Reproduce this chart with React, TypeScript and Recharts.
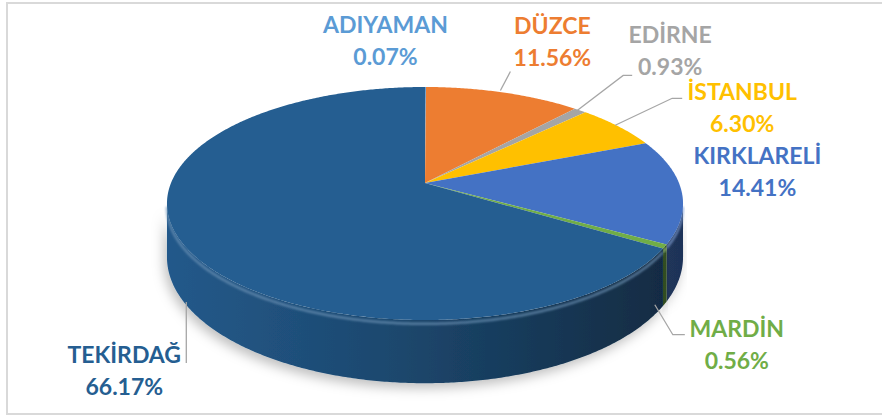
import { PieChart, Pie, Cell } from "recharts";

const provinces = ["ADIYAMAN", "DÜZCE", "EDİRNE", "İSTANBUL", "KIRKLARELİ", "MARDİN", "TEKİRDAĞ"];
const shares = [0.07, 11.56, 0.93, 6.3, 14.41, 0.56, 66.17];
const sliceColors = ["#5B9BD5", "#ED7D31", "#A5A5A5", "#FFC000", "#4472C4", "#70AD47", "#255E91"];

const data = provinces.map((name, i) => ({ name, value: shares[i] }));

// tilt of the disc: vertical squash, perspective and wall height (relative to radius)
const squash = 0.4445;
const persp = 0.176;
const wall = 0.205;
const edgeAngle = (Math.acos(-persp) * 180) / Math.PI; // where the side wall turns away

// label offsets from the slice anchor, leader points relative to the anchor
const labelPlacement: Record<string, { dx: number; dy: number; line?: number[][] }> = {
  "ADIYAMAN": { dx: -40, dy: -54 },
  "DÜZCE": { dx: 49, dy: -59, line: [[-3, -2], [7, -21]] },
  "EDİRNE": { dx: 90, dy: -67, line: [[-3, 0], [43, -35], [52, -35]] },
  "İSTANBUL": { dx: 124, dy: -26, line: [[-3, -1], [54, -28], [64, -28]] },
  "KIRKLARELİ": { dx: 76, dy: -27 },
  "MARDİN": { dx: 72, dy: 33, line: [[-10, 1], [8, 31], [20, 31]] },
  "TEKİRDAĞ": { dx: -58, dy: 63, line: [[4, 2], [4, 63]] },
};

function shade(hex: string, f: number) {
  const n = parseInt(hex.slice(1), 16);
  const ch = [(n >> 16) & 255, (n >> 8) & 255, n & 255].map((v) =>
    Math.round(f <= 1 ? v * f : v + (255 - v) * (f - 1))
  );
  return `rgb(${ch.join(",")})`;
}

// theta: degrees clockwise from 12 o'clock
function project(cx: number, cy: number, r: number, theta: number, drop = 0) {
  const t = (theta * Math.PI) / 180;
  const w = 1 + persp * Math.cos(t);
  return {
    x: cx + (r * Math.sin(t)) / w,
    y: cy - (r * squash * Math.cos(t)) / w + (r * wall * drop) / w,
  };
}

function arcPoints(cx: number, cy: number, r: number, from: number, to: number, drop: number) {
  const steps = Math.max(2, Math.ceil(Math.abs(to - from) / 0.5));
  const pts: string[] = [];
  for (let s = 0; s <= steps; s++) {
    const p = project(cx, cy, r, from + ((to - from) * s) / steps, drop);
    pts.push(`${p.x.toFixed(2)},${p.y.toFixed(2)}`);
  }
  return pts;
}

function Slice3D(props: any) {
  const { cx, cy, outerRadius, startAngle, endAngle, fill } = props;
  const name = props.name ?? props.payload?.name;
  const idx = provinces.indexOf(name);
  const a0 = 90 - startAngle;
  const a1 = 90 - endAngle;
  const top = `M${cx},${cy} L${arcPoints(cx, cy, outerRadius, a0, a1, 0).join(" L")} Z`;

  const s0 = Math.max(a0, edgeAngle);
  const s1 = Math.min(a1, 360 - edgeAngle);
  const hasSide = s1 > s0;
  const gid = `side-${idx}`;
  let side = "";
  let rim = "";
  if (hasSide) {
    const upper = arcPoints(cx, cy, outerRadius, s0, s1, 0);
    const lower = arcPoints(cx, cy, outerRadius, s1, s0, 1);
    side = `M${upper.join(" L")} L${lower.join(" L")} Z`;
    rim = `M${arcPoints(cx, cy, outerRadius, s0, s1, 0.06).join(" L")}`;
  }

  return (
    <g>
      <defs>
        <linearGradient id={gid} gradientUnits="userSpaceOnUse" x1={cx - outerRadius} y1={0} x2={cx + outerRadius} y2={0}>
          <stop offset="0" stopColor={shade(fill, 0.95)} />
          <stop offset="0.45" stopColor={shade(fill, 0.75)} />
          <stop offset="1" stopColor={shade(fill, 0.45)} />
        </linearGradient>
        <filter id={`shadow-${idx}`} x="-20%" y="-20%" width="140%" height="160%">
          <feDropShadow dx="-3" dy="5" stdDeviation="6" floodColor="#000" floodOpacity="0.25" />
        </filter>
        <filter id={`soft-${idx}`}>
          <feGaussianBlur stdDeviation="1.2" />
        </filter>
      </defs>
      {hasSide && <path d={side} fill={`url(#${gid})`} filter={`url(#shadow-${idx})`} />}
      {hasSide && (
        <path d={rim} fill="none" stroke={shade(fill, 1.35)} strokeWidth={2.5} strokeOpacity={0.7} filter={`url(#soft-${idx})`} />
      )}
      <path d={top} fill={fill} />
    </g>
  );
}

function renderLabel(props: any) {
  const { cx, cy, midAngle, outerRadius } = props;
  const name = props.name ?? props.payload?.name;
  const idx = provinces.indexOf(name);
  const place = labelPlacement[name];
  const theta = 90 - midAngle;
  const front = theta > edgeAngle && theta < 360 - edgeAngle;
  const a = project(cx, cy, outerRadius, theta, front ? 1 : 0);
  const color = sliceColors[idx];
  const tx = a.x + place.dx;
  const ty = a.y + place.dy;
  return (
    <g key={`lbl-${name}`}>
      {place.line && (
        <polyline
          points={place.line.map(([x, y]) => `${a.x + x},${a.y + y}`).join(" ")}
          fill="none"
          stroke="#A6A6A6"
          strokeWidth={1.3}
        />
      )}
      <text
        x={tx}
        y={ty}
        fill={color}
        textAnchor="middle"
        fontFamily="Lato, 'Open Sans', sans-serif"
        fontWeight={700}
        fontSize={23}
      >
        <tspan x={tx} y={ty}>{name}</tspan>
        <tspan x={tx} y={ty + 32}>{`${shares[idx].toFixed(2)}%`}</tspan>
      </text>
    </g>
  );
}

export default function App() {
  return (
    <div style={{ position: "absolute", left: 0, top: 0, width: 882, height: 416, background: "#fff" }}>
      <div
        style={{
          position: "absolute",
          left: 6,
          top: 2,
          width: 886,
          height: 413,
          border: "2px solid #D9D9D9",
          boxSizing: "border-box",
        }}
      />
      <PieChart width={882} height={416} margin={{ top: 0, right: 0, bottom: 0, left: 0 }} style={{ position: "absolute", left: 0, top: 0 }}>
        <Pie
          data={data}
          dataKey="value"
          nameKey="name"
          cx={425}
          cy={183}
          outerRadius={254}
          startAngle={90}
          endAngle={-270}
          shape={Slice3D}
          label={renderLabel}
          labelLine={false}
          isAnimationActive={false}
        >
          {data.map((d, i) => (
            <Cell key={d.name} fill={sliceColors[i]} />
          ))}
        </Pie>
      </PieChart>
    </div>
  );
}
